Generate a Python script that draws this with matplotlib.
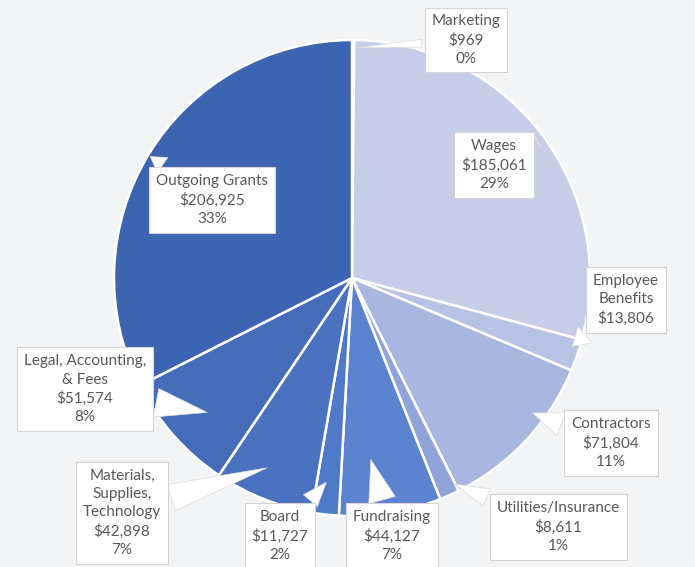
import matplotlib
matplotlib.use("Agg")
import matplotlib.pyplot as plt

# ---- data ----
categories = ["Marketing", "Wages", "Employee\nBenefits", "Contractors",
              "Utilities/Insurance", "Fundraising", "Board",
              "Materials,\nSupplies,\nTechnology", "Legal, Accounting,\n& Fees",
              "Outgoing Grants"]
amounts = [969, 185061, 13806, 71804, 8611, 44127, 11727, 42898, 51574, 206925]
pct_labels = ["0%", "29%", None, "11%", "1%", "7%", "2%", "7%", "8%", "33%"]

# ---- style / layout ----
colors = ["#cfd5ec", "#c6cde9", "#b7c2e5", "#a9b6df", "#90a4da",
          "#5c83d0", "#5079c8", "#4a72c1", "#446cb9", "#3d64b0"]
# label box centres and pointer tips (in pie-radius units)
label_pos = [(0.479, 1.0), (0.597, 0.475), (1.151, -0.092), (1.088, -0.693),
             (0.866, -1.046), (0.168, -1.084), (-0.303, -1.084),
             (-0.966, -0.987), (-1.122, -0.468), (-0.588, 0.328)]
tip_pos = [(0.008, 0.966), (0.79, 0.588), (0.916, -0.294), (0.748, -0.563),
           (0.42, -0.861), (0.076, -0.752), (-0.10, -0.849),
           (-0.345, -0.794), (-0.597, -0.567), (-0.857, 0.517)]
tail_widths = [0.5, 1.0, 1.4, 1.6, 1.2, 1.8, 1.2, 1.8, 1.9, 1.2]

plt.rcParams['font.family'] = ['Lato', 'DejaVu Sans']
bg = "#f3f4f6"
fig = plt.figure(figsize=(6.95, 5.67), dpi=100, facecolor=bg)
ax = fig.add_axes([0, 0, 1, 1])
ax.set_facecolor(bg)

ax.pie(amounts, colors=colors, startangle=90, counterclock=False, radius=1.0,
       wedgeprops=dict(edgecolor="white", linewidth=1.8))

ax.set_xlim(-352 / 238, (695 - 352) / 238)
ax.set_ylim((278 - 567) / 238, 278 / 238)
ax.set_aspect('auto')
ax.axis('off')

for cat, amt, pct, lp, tp, tw in zip(categories, amounts, pct_labels,
                                     label_pos, tip_pos, tail_widths):
    txt = f"{cat}\n${amt:,}"
    if pct:
        txt += f"\n{pct}"
    ax.annotate(txt, xy=tp, xytext=lp, ha="center", va="center",
                fontsize=11, color="#595959", linespacing=1.38,
                bbox=dict(boxstyle="square,pad=0.45", fc="white", ec="#d4d4d4", lw=0.8),
                arrowprops=dict(arrowstyle=f"wedge,tail_width={tw},shrink_factor=0.5",
                                fc="white", ec="#dcdcdc", lw=0.5),
                zorder=5)

fig.savefig("out.png", dpi=100, facecolor=bg)
